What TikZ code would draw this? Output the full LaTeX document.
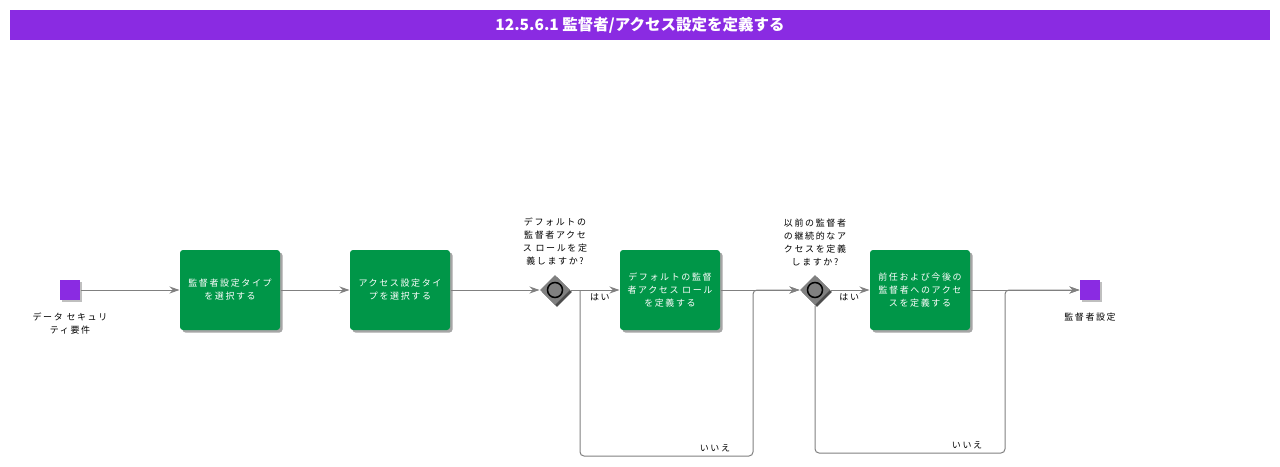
\documentclass[tikz,border=0pt]{standalone}
\usepackage{fontspec}
\setmainfont{Noto Sans CJK JP}[LetterSpace=18]
\newfontfamily\titlefont{Noto Sans CJK JP}
\usetikzlibrary{shapes.geometric,arrows.meta,shadows,positioning}
\definecolor{bandpurple}{RGB}{138,43,226}
\definecolor{taskgreen}{RGB}{0,150,72}

\begin{document}
\begin{tikzpicture}[x=1pt,y=-1pt,>={Stealth[length=10pt,width=7pt]},line width=1pt,
    font=\fontsize{9}{13}\selectfont]
    \tikzstyle{task}=[rectangle,rounded corners=3pt,fill=taskgreen,text=white,minimum width=100pt,
      minimum height=80pt,align=center,inner sep=2pt,
      drop shadow={shadow xshift=2.5pt,shadow yshift=-2.5pt,fill=black!35,opacity=1}]
    \tikzstyle{event}=[rectangle,fill=bandpurple,minimum size=20pt,inner sep=0pt,
      drop shadow={shadow xshift=2pt,shadow yshift=-2pt,fill=black!25,opacity=1}]
    \tikzstyle{gateway}=[diamond,fill=black!50,minimum size=30pt,inner sep=0pt,
      drop shadow={shadow xshift=2pt,shadow yshift=-2pt,fill=black!70,opacity=1}]
    \tikzstyle{gwmark}=[circle,draw=black,line width=1.5pt,fill=black!50,minimum size=15pt,inner sep=0pt]
    \tikzstyle{flow}=[->,draw=black!50]
    \tikzstyle{lbl}=[align=center,text=black]

    \useasboundingbox (0,0) rectangle (1280,466);

    % title band
    \node[fill=bandpurple,minimum width=1260pt,minimum height=30pt,inner sep=0pt,text=white,
      font=\titlefont\bfseries\fontsize{15.5}{17}\selectfont] (title) at (640,25)
      {12.5.6.1 監督者/アクセス設定を定義する};

    % events
    \node[event] (E-1) at (70,290) {};
    \node[lbl,below=8pt of E-1] {データ セキュリ\\ティ要件};
    \node[event] (E-2) at (1090,290) {};
    \node[lbl,below=9pt of E-2] {監督者設定};

    % tasks
    \node[task] (T-1) at (230,290) {監督者設定タイプ\\を選択する};
    \node[task] (T-2) at (400,290) {アクセス設定タイ\\プを選択する};
    \node[task] (T-3) at (670,290) {デフォルトの監督\\者アクセス ロール\\を定義する};
    \node[task] (T-4) at (920,290) {前任および今後の\\監督者へのアクセ\\スを定義する};

    % gateways
    \foreach \g/\x in {1/555,2/815}{
      \node[gateway] (G-\g) at (\x,290) {};
      \node[gwmark] at (G-\g) {};
    }
    \node[lbl,above=5pt of G-1] {デフォルトの\\監督者アクセ\\ス ロールを定\\義しますか?};
    \node[lbl,above=5pt of G-2] {以前の監督者\\の継続的なア\\クセスを定義\\しますか?};

    \coordinate (N-0) at (580,290);
    \coordinate (N-1) at (580,456);
    \coordinate (N-2) at (753,456);
    \coordinate (N-3) at (815,453);
    \coordinate (N-4) at (1005,453);

    % flows
    \draw[flow] (E-1) -- (T-1);
    \draw[flow] (T-1) -- (T-2);
    \draw[flow] (T-2) -- (G-1);
    \draw[flow] (G-1) -- node[lbl,below,pos=0.6] {はい} (T-3);
    \draw[flow] (T-3) -- (G-2);
    \draw[flow] (G-2) -- node[lbl,below,pos=0.48] {はい} (T-4);
    \draw[flow] (T-4) -- (E-2);
    \draw[flow,rounded corners=4pt] (N-0) -- (N-1) -- node[lbl,above,pos=0.78] {いいえ} (N-2) |- (G-2.west);
    \draw[flow,rounded corners=4pt] (G-2.south) -- (N-3) -- node[lbl,above,pos=0.8] {いいえ} (N-4) |- (E-2.west);
  \end{tikzpicture}
\end{document}
